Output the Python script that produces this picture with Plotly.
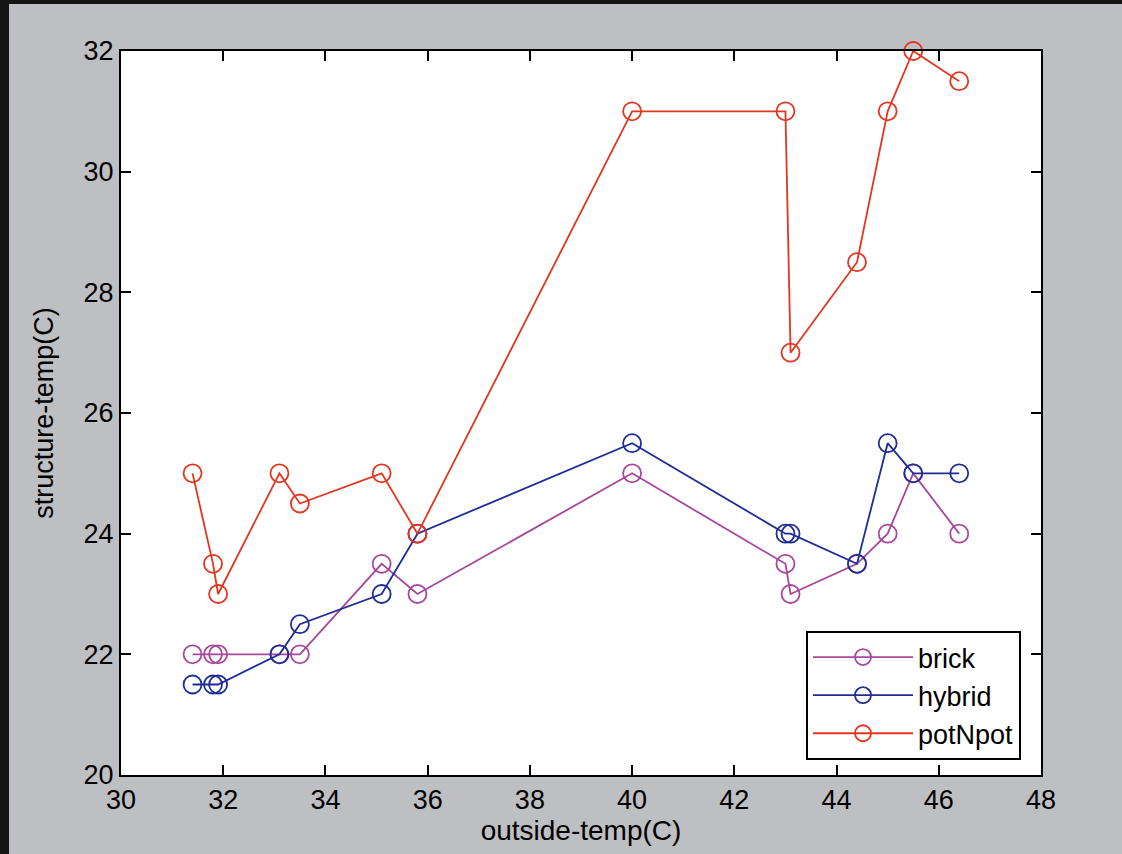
import plotly.graph_objects as go

outside_temp = [31.4, 31.8, 31.9, 33.1, 33.5, 35.1, 35.8, 40.0, 43.0, 43.1, 44.4, 45.0, 45.5, 46.4]
brick = [22, 22, 22, 22, 22, 23.5, 23, 25, 23.5, 23, 23.5, 24, 25, 24]
hybrid = [21.5, 21.5, 21.5, 22, 22.5, 23, 24, 25.5, 24, 24, 23.5, 25.5, 25, 25]
potnpot = [25, 23.5, 23, 25, 24.5, 25, 24, 31, 31, 27, 28.5, 31, 32, 31.5]

series = [("brick", brick, "#a8479c"), ("hybrid", hybrid, "#1f2c96"), ("potNpot", potnpot, "#e2361e")]

x_ticks = [30, 32, 34, 36, 38, 40, 42, 44, 46, 48]
y_ticks = [20, 22, 24, 26, 28, 30, 32]

FONT = "Liberation Sans, Arial, sans-serif"

fig = go.Figure()
for name, vals, col in series:
    fig.add_trace(go.Scatter(
        x=outside_temp, y=vals, name=name, mode="lines+markers", legendgroup=name,
        line=dict(color=col, width=1.8),
        marker=dict(symbol="circle-open", size=18, color=col, line=dict(width=1.8, color=col)),
        cliponaxis=False,
    ))

W, H = 1122, 854
L, R, T, B = 121, 81, 51, 79
pw, ph = W - L - R, H - T - B

def px(xp):
    return (xp - L) / pw

def py(yp):
    return (H - B - yp) / ph

axis_common = dict(
    showgrid=False, zeroline=False, showline=True, linecolor="black", linewidth=2,
    mirror="ticks", ticks="inside", ticklen=10, tickwidth=2, tickcolor="black",
    tickfont=dict(family=FONT, size=27, color="black"),
)

fig.update_layout(
    width=W, height=H,
    margin=dict(l=L, r=R, t=T, b=B, pad=0),
    paper_bgcolor="#bebfc3",
    plot_bgcolor="white",
    font=dict(family=FONT, color="black"),
    xaxis=dict(range=[30, 48], tickvals=x_ticks, ticktext=[str(v) for v in x_ticks],
               title=dict(text="outside-temp(C)", font=dict(family=FONT, size=28), standoff=4),
               **axis_common),
    yaxis=dict(range=[20, 32], tickvals=y_ticks, ticktext=[str(v) for v in y_ticks],
               title=dict(text="structure-temp(C)", font=dict(family=FONT, size=27), standoff=22),
               **axis_common),
    legend=dict(
        x=px(1021), y=py(760), xanchor="right", yanchor="bottom",
        bgcolor="white", bordercolor="black", borderwidth=2,
        font=dict(family=FONT, size=27, color="black"),
        itemwidth=100, traceorder="grouped", tracegroupgap=0,
    ),
    showlegend=True,
    shapes=[
        dict(type="rect", xref="paper", yref="paper", x0=px(0), x1=px(9), y0=py(854), y1=py(0),
             fillcolor="#141414", line=dict(width=0), layer="below"),
        dict(type="rect", xref="paper", yref="paper", x0=px(0), x1=px(1122), y0=py(4), y1=py(0),
             fillcolor="#141414", line=dict(width=0), layer="below"),
    ],
)

fig.write_html(
    "out.html", config={"displayModeBar": False},
    post_script=("document.body.style.margin='0';document.body.style.overflow='hidden';"
                 "document.body.style.background='#bebfc3';"
                 "document.documentElement.style.background='#bebfc3';"),
)
